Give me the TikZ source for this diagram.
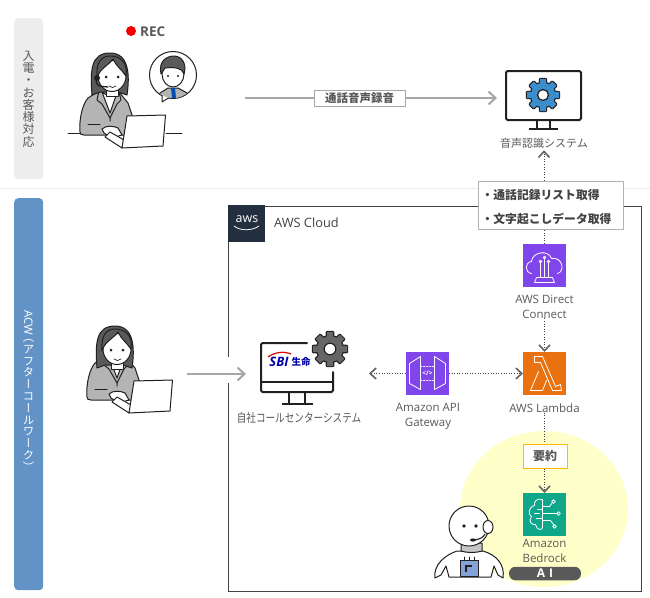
\documentclass[tikz,border=0pt]{standalone}
\usepackage{fontspec}
\usetikzlibrary{arrows.meta,calc}
\setmainfont{Open Sans}
\newfontfamily\cjk{Noto Sans CJK JP}
\newfontfamily\cjkv[RawFeature=+vert]{Noto Sans CJK JP}
\definecolor{txt}{HTML}{595959}
\definecolor{hairc}{HTML}{5A5A5A}
\definecolor{jacket}{HTML}{B4B4B4}
\definecolor{ink}{HTML}{231F20}
\definecolor{arrowg}{HTML}{A6A6A6}
\definecolor{purp}{HTML}{8145EC}
\definecolor{lam}{HTML}{E9710F}
\definecolor{bedr}{HTML}{0FA78A}
\definecolor{gearblue}{HTML}{3C8DCB}
\definecolor{acwblue}{HTML}{6292C6}
\definecolor{yellowbg}{HTML}{FFFFC9}
\tikzset{
  lbl/.style={inner sep=0pt,font=\fontsize{11.5}{15}\selectfont,text=txt,align=center},
  jlbl/.style={inner sep=0pt,font=\cjk\fontsize{11}{14}\selectfont,text=txt,align=center},
  icon/.style={minimum size=43pt,inner sep=0pt,outer sep=0pt},
  dotarrow/.style={draw=ink!85,line width=1pt,dash pattern=on 1pt off 1.6pt,-{Straight Barb[length=6pt,width=11pt,line width=1.6pt,color=ink!70]}},
  dotline/.style={draw=ink!85,line width=1pt,dash pattern=on 1pt off 1.6pt},
  grayarrow/.style={draw=arrowg,line width=2pt,-{Straight Barb[length=7pt,width=13pt,line width=2pt]}},
  wline/.style={draw=white,line width=.8pt,line join=round,line cap=round},
  pline/.style={draw=ink,line width=1pt,line join=round,line cap=round},
  side/.style={rounded corners=4pt,minimum width=29pt,inner sep=0pt},
  vtext/.style={inner sep=0pt,align=center,font=\cjkv\fontsize{12}{12.3}\selectfont}
}
\newcommand\gear[5]{% centre, radius, tooth, colour, outline width
  \fill[ink] (#1) circle[radius=#2*0.76+#5];
  \foreach \a in {0,45,...,315}{
    \begin{scope}[shift={(#1)},rotate=\a]
      \draw[ink,fill=ink,line width=#5*2,line join=round] (-#3,0) -- (-#3*0.8,#2) -- (#3*0.8,#2) -- (#3,0) -- cycle;
    \end{scope}}
  \fill[#4] (#1) circle[radius=#2*0.76];
  \foreach \a in {0,45,...,315}{
    \begin{scope}[shift={(#1)},rotate=\a]
      \fill[#4] (-#3,0) -- (-#3*0.8,#2) -- (#3*0.8,#2) -- (#3,0) -- cycle;
    \end{scope}}
  \draw[ink,fill=white,line width=#5] (#1) circle[radius=#2*0.34];
}
\newcommand\womanhead{%
  \draw[pline,fill=hairc] (92,95) .. controls (90,70) and (91,53) .. (110,53) .. controls (129,53) and (130,75) .. (127,95) -- (118,92) -- (100,92) -- cycle;
  \draw[pline,fill=white] (106,88) -- (106,96) -- (118,96) -- (118,88) -- cycle;
  \draw[pline,fill=white] (112,76) ellipse[x radius=14,y radius=15.5];
  \draw[pline,fill=hairc] (97,78) .. controls (100,68) and (108,66) .. (113,59) .. controls (116,66) and (122,70) .. (126,76) .. controls (128,62) and (120,56) .. (110,56) .. controls (100,56) and (96,64) .. (97,78) -- cycle;
  \fill[ink] (106,77) circle[radius=1.5] (118,77) circle[radius=1.5];
  \draw[pline,line width=.7pt] (109,86) .. controls (111,88) and (114,88) .. (116,86);
}
\newcommand\womanbody{%
  \draw[pline,fill=jacket] (80,132) .. controls (79,120) and (82,105) .. (88,98) -- (99,91) -- (119,92) -- (128,103) -- (133,118) -- (124,135) -- (84,135) .. controls (81,135) and (80,134) .. (80,132) -- cycle;
  \draw[pline,fill=white] (102,92) -- (110,113) -- (117,93) .. controls (112,96) and (106,96) .. (102,92) -- cycle;
  \draw[pline] (99,91) -- (97,100) -- (102,104) -- (110,118) -- (110,121);
  \draw[pline] (119,92) -- (121,100) -- (117,104) -- (110,118);
  \draw[pline] (88,124) -- (100,124);
  \draw[pline,fill=white] (102,129) .. controls (106,125) and (114,126) .. (118,128) -- (122,135) -- (112,138) -- (104,133) -- cycle;
  \draw[pline,fill=white] (105,137) -- (122,148) -- (124,140) -- (110,132) -- cycle;
  \draw[pline,fill=white] (127,116) -- (165.5,115) -- (163,146) -- (122,148) -- cycle;
}
\begin{document}
\begin{tikzpicture}[x=1pt,y=-1pt]
\useasboundingbox (0,0) rectangle (650,597);
\fill[white] (0,0) rectangle (650,597);
\draw[draw=black!8,line width=.8pt] (0,188.5) -- (650,188.5);

% side labels
\node[side,fill=black!7,anchor=north west,minimum height=161pt] (inbound) at (14,18) {};
\node[vtext,text=txt] (inboundt) at (28.5,99) {入\\電\\・\\お\\客\\様\\対\\応};
\node[side,fill=acwblue,anchor=north west,minimum height=392pt] (acw) at (14,198) {};
\node[vtext,text=white,font=\cjkv\fontsize{11.4}{11.8}\selectfont] (acwt) at (28.5,391) {\rotatebox{-90}{\fontspec{Noto Sans}ACW}\\[3pt]（\\ア\\フ\\タ\\ー\\コ\\ー\\ル\\ワ\\ー\\ク\\）};

% AWS cloud frame
\node[draw=ink!85,line width=1pt,minimum width=413pt,minimum height=385pt,anchor=north west,inner sep=0pt] (cloud) at (228,205.5) {};
\begin{scope}
\clip (228,205) rectangle (641,590);
\fill[yellowbg] (544,509) ellipse[x radius=84,y radius=78];
\end{scope}
\node[fill={rgb,255:red,35;green,47;blue,62},minimum size=37pt,anchor=north west,inner sep=0pt] (awsbadge) at (228,205) {};
\node[inner sep=0pt,text=white,font=\fontsize{12.5}{14}\selectfont] (awsword) at (247,219) {aws};
\draw[white,line width=.8pt] (234,226) .. controls (240,231) and (252,231) .. (259,226);
\node[lbl,anchor=west,text=ink!85,font=\fontsize{12.8}{14}\selectfont] (cloudt) at (274,223) {AWS Cloud};

% REC
\fill[red!95!black] (131,31) circle[radius=5];
\node[lbl,anchor=west,font=\bfseries\fontsize{13.5}{15}\selectfont] (rec) at (140,32) {REC};

% agent with headset
\draw[pline] (68,133.5) -- (80,133.5) (166,133.5) -- (182,133.5);
\womanbody
\womanhead
\draw[pline,line width=1.3pt] (97,76) .. controls (94,88) and (100,86) .. (108,87);
\fill[ink] (97,78) circle[radius=3];

% customer bubble
\draw[pline,fill=white] (173,75) circle[radius=23.5];
\draw[pline,fill=white] (162,92) -- (162,102) -- (170,97) -- cycle;
\begin{scope}
\clip (173,75) circle[radius=23];
\draw[pline,fill=jacket] (157,100) -- (160,93) -- (168,88) -- (178,88) -- (187,93) -- (190,100) -- cycle;
\fill[blue!55!cyan!70!black] (171,88) -- (175,88) -- (176,98) -- (172,98) -- cycle;
\end{scope}
\draw[pline,fill=white] (173,74) ellipse[x radius=11,y radius=13];
\draw[pline,fill=hairc] (161,74) .. controls (158,60) and (168,56) .. (174,56) .. controls (182,56) and (187,64) .. (184,74) .. controls (182,68) and (176,67) .. (165,68) -- cycle;
\fill[ink] (168,76) circle[radius=1.2] (178,76) circle[radius=1.2];

% top row
\coordinate (recstart) at (245,98);
\node[inner sep=0pt,minimum width=76pt,minimum height=50pt,anchor=north west] (voice) at (506,70) {};
\draw[line width=2pt,ink,rounded corners=1.5pt,fill=white] (506,71) rectangle (581,120);
\draw[line width=2pt,ink] (537,120) -- (537,128) (550,120) -- (550,128);
\draw[line width=2pt,ink] (529,129) -- (558,129);
\gear{543,95}{16}{3.6}{gearblue}{1.2}
\node[jlbl] (voicel) at (544,143) {音声認識システム};
\draw[grayarrow] (recstart) -- ($(recstart -| voice.west)+(-9,0)$);
\node[draw=arrowg,fill=white,line width=.8pt,inner sep=0pt,minimum width=91pt,minimum height=16pt,font=\cjk\bfseries\fontsize{11.5}{14}\selectfont,text=txt] (reclbl) at (359.5,98) {通話音声録音};

% list box
\node[draw=black!30,fill=white,line width=.8pt,minimum width=145pt,minimum height=48pt,inner sep=0pt] (listbox) at (550.5,205) {};
\node[inner sep=0pt,text=ink!85,align=left,font=\cjk\bfseries\fontsize{11.8}{24}\selectfont] (listtext) at (546.5,207) {・通話記録リスト取得\\・文字起こしデータ取得};

% Direct Connect
\node[icon,fill=purp] (dc) at (544.5,265.5) {};
\begin{scope}[shift={(544.5,265.5)}]
\draw[wline] (-13,8) .. controls (-20,7) and (-20,-3) .. (-13,-4) .. controls (-12,-14) and (4,-16) .. (7,-7) .. controls (18,-9) and (21,6) .. (13,8);
\draw[wline] (-4,-3) -- (-4,12) (0,-6) -- (0,12) (4,-3) -- (4,12);
\draw[wline] (-4,-4) circle[radius=1.3] (0,-8) circle[radius=1.3] (4,-4) circle[radius=1.3];
\draw[wline] (-8,12) -- (8,12) (-10,17) -- (10,17) (-8,12) -- (-10,17) (8,12) -- (10,17);
\end{scope}
\node[lbl,anchor=north] (dcl) at (544.5,294.5) {AWS Direct\\Connect};

% Lambda
\node[icon,fill=lam] (lambda) at (544.5,373.5) {};
\begin{scope}[shift={(544.5,373.5)}]
\draw[wline] (-10,-17) -- (-2,-17) -- (11,13) -- (16,11) -- (17,17) -- (8,17) -- (-4,-11) -- (-10,-11) -- cycle;
\draw[wline] (-6,-2) -- (-14,17) -- (-2,17) -- (2,7);
\end{scope}
\node[lbl,anchor=north] (lambdal) at (544.5,403.5) {AWS Lambda};

% Summary
\node[draw=orange!55!yellow,fill=white,line width=1pt,minimum width=44pt,minimum height=24pt,inner sep=0pt,text=txt,font=\cjk\bfseries\fontsize{12}{14}\selectfont] (youyaku) at (545,456) {要約};

% Bedrock
\node[icon,fill=bedr] (bedrock) at (544.5,514.5) {};
\begin{scope}[shift={(544.5,514.5)}]
\draw[wline] (-2,-15) .. controls (-8,-17) and (-11,-12) .. (-10,-9) .. controls (-17,-7) and (-16,1) .. (-13,2) .. controls (-17,7) and (-12,11) .. (-9,10) .. controls (-8,16) and (-2,16) .. (-2,13) -- cycle;
\draw[wline] (-2,-5) -- (-7,-5) (-2,4) -- (-8,4) (-10,-1) -- (-5,-1);
\draw[wline] (-2,-8) -- (5,-8) -- (8,-12) (-2,-1) -- (12,-1) (-2,6) -- (6,6) -- (9,10);
\draw[wline] (9,-13) circle[radius=1.8] (14,-1) circle[radius=1.8] (10,12) circle[radius=1.8];
\end{scope}
\node[lbl,anchor=north] (bedrockl) at (544.5,539.5) {Amazon\\Bedrock};
\node[fill=black!65,rounded corners=6.5pt,minimum width=72pt,minimum height=13.5pt,inner sep=0pt,text=white,font=\bfseries\fontsize{12}{13}\selectfont] (ai) at (545,573.5) {A\,\,I};

% API Gateway
\node[icon,fill=purp] (api) at (427.5,373.5) {};
\begin{scope}[shift={(427.5,373.5)}]
\draw[wline] (-18,-10) -- (-7,-17) -- (-7,16) -- (-18,10) -- cycle;
\draw[wline] (18,-10) -- (7,-17) -- (7,16) -- (18,10) -- cycle;
\draw[wline,dash pattern=on 1.5pt off 1.5pt] (-7,-7) -- (7,-7) (-7,7) -- (7,7);
\node[text=white,inner sep=0pt,font=\bfseries\fontsize{6.5}{7}\selectfont] (apitag) at (0,0) {</>};
\end{scope}
\node[lbl,anchor=north] (apil) at (428,403) {Amazon API\\Gateway};

% own call centre system
\node[inner sep=0pt,minimum width=72pt,minimum height=49pt,anchor=north west] (sbi) at (261,343) {};
\draw[line width=2pt,ink,line cap=round,rounded corners=1.5pt] (307,343) -- (261,343) -- (261,392) -- (333,392) -- (333,372);
\draw[line width=1.6pt,ink] (261,382) -- (333,382);
\draw[line width=1.6pt,ink] (289,392) -- (289,403) (305,392) -- (305,403);
\draw[line width=2pt,ink] (282,404) -- (313,404);
\gear{330,349}{17}{3.8}{black!60}{1.2}
\node[inner sep=0pt,text=blue!65!black,font=\bfseries\itshape\fontsize{13}{14}\selectfont] (sbit) at (279,362) {SBI};
\node[inner sep=0pt,text=blue!65!black,font=\cjk\bfseries\fontsize{9.5}{10}\selectfont] (seimei) at (301,362) {生命};
\draw[red!85!black,line width=1.2pt] (268,357) .. controls (275,352) and (284,351) .. (291,354);
\node[jlbl,font=\cjk\fontsize{9.6}{12}\selectfont] (sbil) at (299,418) {\scalebox{1}[1.25]{自社コールセンターシステム}};

% robot
\begin{scope}
\draw[pline,fill=white] (435,578) .. controls (433,565) and (445,555) .. (457,551) -- (483,551) .. controls (497,555) and (505,565) .. (503,578) -- (498,575) -- (494,566) -- (491,577) -- (449,577) -- (446,566) -- (441,575) -- cycle;
\draw[pline,fill=black!22] (461,543) -- (461,551) .. controls (467,553) and (476,553) .. (482,551) -- (482,543) -- cycle;
\draw[pline,fill=white] (469,526) ellipse[x radius=20,y radius=20];
\draw[pline,fill=white] (488,527) ellipse[x radius=5,y radius=6.5];
\fill[ink] (464,526) circle[radius=1.8] (476,526) circle[radius=1.8];
\draw[pline,line width=1.1pt] (485,534) .. controls (483,538) and (480,539) .. (474,540);
\fill[ink] (473,540) ellipse[x radius=3,y radius=1.6];
\draw[pline,fill=cyan!45!blue!50] (460,560) rectangle (478,576);
\draw[pline] (464,560) -- (464,557) (469,560) -- (469,557) (474,560) -- (474,557);
\draw[ink,line width=1.4pt] (466,572) -- (466,566) -- (472,566);
\end{scope}

% agent at PC
\begin{scope}[shift={(7,265)}]
\womanbody
\end{scope}
\begin{scope}[shift={(5,273)}]
\womanhead
\end{scope}
\coordinate (pcout) at (187,374);
\fill[white] (224,357) rectangle (232,383);
\draw[grayarrow] (pcout) -- ($(pcout -| sbi.west)+(-15,0)$);

% connectors
\draw[dotarrow] (listbox.north -| voicel) -- ($(voicel.south)+(0,2)$);
\draw[dotline] (dc.north) -- (dc.north |- listbox.south);
\draw[dotarrow] (dcl.south) -- (lambda.north);
\draw[dotarrow] (api.east) -- (lambda.west);
\draw[dotarrow] (api.west) -- ($(api.west)+(-37,0)$);
\draw[dotline] (lambdal.south) -- (lambdal.south |- youyaku.north);
\draw[dotarrow] (youyaku.south -| bedrock) -- (bedrock.north);
\end{tikzpicture}
\end{document}
